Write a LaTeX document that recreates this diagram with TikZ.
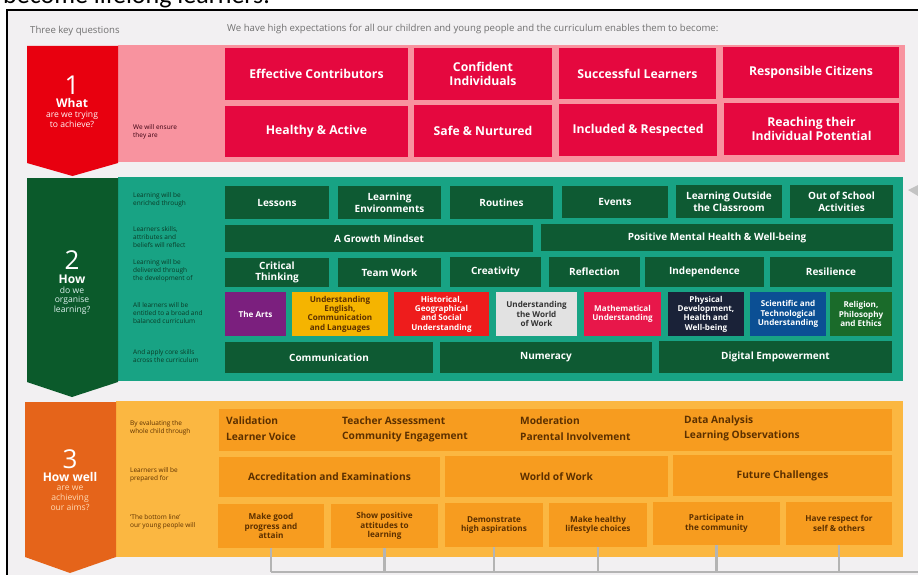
\documentclass[tikz,border=0pt]{standalone}
\usepackage{fontspec}
\setmainfont{Open Sans}
\newfontfamily\calib{Carlito}
\usetikzlibrary{positioning}
\definecolor{bgc}{HTML}{F2F0F2}
\definecolor{redchev}{HTML}{E8000F}
\definecolor{pinkband}{HTML}{F8939F}
\definecolor{crimson}{HTML}{E5083F}
\definecolor{gchev}{HTML}{0B5A2B}
\definecolor{teal}{HTML}{18A384}
\definecolor{gbox}{HTML}{0E5A33}
\definecolor{ochev}{HTML}{E5641A}
\definecolor{oband}{HTML}{FBB741}
\definecolor{obox}{HTML}{F79C1F}
\definecolor{brownt}{HTML}{5C3000}
\definecolor{greyt}{HTML}{707070}
\definecolor{glbl}{HTML}{0A3A26}
\definecolor{plbl}{HTML}{3A0010}
\definecolor{arts}{HTML}{7B1F7E}
\definecolor{engl}{HTML}{F5B400}
\definecolor{hist}{HTML}{EE1C1C}
\definecolor{world}{HTML}{E2E2E2}
\definecolor{math}{HTML}{E8174A}
\definecolor{phys}{HTML}{1A2238}
\definecolor{sci}{HTML}{0B4F94}
\definecolor{rel}{HTML}{1A6B2A}
\definecolor{lineg}{HTML}{B4B4B4}
\newcommand\rbox[7]{\node[#6, minimum width={(#4)-(#2)}, minimum height={(#5)-(#3)}] (#1) at ({((#2)+(#4))/2},{((#3)+(#5))/2}) {#7};}
\tikzset{
  base/.style={inner sep=0pt, outer sep=0pt, align=center},
  redb/.style={base, fill=crimson, text=white, font=\fontsize{12.2}{14}\selectfont\bfseries},
  grnb/.style={base, fill=gbox, text=white, font=\fontsize{10}{11.6}\selectfont\bfseries},
  curb/.style={base, font=\fontsize{8.1}{9.3}\selectfont\bfseries},
  orb/.style={base, fill=obox, text=brownt, font=\fontsize{10.2}{12}\selectfont\bfseries},
  orsm/.style={base, fill=obox, text=brownt, font=\fontsize{8.2}{9.4}\selectfont\bfseries},
  lbl/.style={inner sep=0pt, anchor=west, align=left, font=\fontsize{6.5}{8.2}\selectfont},
  chevnum/.style={inner sep=0pt, anchor=base, text=white, text height=18.5pt, text depth=0pt, font=\fontsize{26}{26}\selectfont},
  chevhd/.style={inner sep=0pt, anchor=base, text=white, text height=8.8pt, text depth=0pt, font=\fontsize{12}{13}\selectfont\bfseries},
  chevsm/.style={inner sep=0pt, align=center, font=\fontsize{8.6}{10}\selectfont},
  ortx/.style={inner sep=0pt, anchor=west, text=brownt, font=\fontsize{10.2}{12}\selectfont\bfseries},
  conn/.style={draw=lineg, line width=2.5pt}
}
\begin{document}
\begin{tikzpicture}[x=1pt,y=-1pt]
\useasboundingbox (0,0) rectangle (918,575);
\fill[white] (0,0) rectangle (918,575);
\begin{scope}
\clip (0,0) rectangle (918,575);
\node[inner sep=0pt, anchor=base west, font=\calib\fontsize{26}{26}\selectfont] (title) at (3,4) {become lifelong learners.};
\end{scope}
\fill[bgc] (7,10) rectangle (918,575);
\draw[black, line width=1.4pt] (7,575) -- (7,10) -- (918,10);

\node[inner sep=0pt, anchor=west, text=greyt, font=\fontsize{9.6}{11}\selectfont] (tkq) at (30,31) {Three key questions};
\node[inner sep=0pt, anchor=west, text=greyt, font=\fontsize{9.6}{11}\selectfont] (intro) at (227,29) {We have high expectations for all our children and young people and the curriculum enables them to become:};

% ---------- Section 1
\fill[pinkband] (118,45) rectangle (905,162);
\fill[redchev] (27,46) -- (118,46) -- (118,163) -- (72.5,176) -- (27,163) -- cycle;
\node[chevnum] (n1) at (72,94.5) {1};
\node[chevhd] (h1) at (72,107.5) {What};
\node[chevsm, text=white!85!pink] (s1) at (72,119.5) {are we trying\\to achieve?};
\node[lbl, text=plbl] (l1) at (133,131.5) {We will ensure\\they are};

\rbox{r11}{225}{48}{408}{100}{redb}{Effective Contributors}
\rbox{r12}{414}{48}{552}{100}{redb}{Confident\\Individuals}
\rbox{r13}{559}{48}{716}{99}{redb}{Successful Learners}
\rbox{r14}{723}{47}{899}{98}{redb}{Responsible Citizens}
\rbox{r21}{225}{106}{408}{157}{redb}{Healthy \& Active}
\rbox{r22}{414}{105}{552}{157}{redb}{Safe \& Nurtured}
\rbox{r23}{559}{104}{717}{156}{redb}{Included \& Respected}
\rbox{r24}{724}{103}{899}{155}{redb}{Reaching their\\Individual Potential}

% ---------- Section 2
\fill[teal] (118,177) rectangle (903,381);
\fill[gchev] (27,178) -- (118,178) -- (118,382) -- (72,397) -- (27,382) -- cycle;
\fill[lineg!80] (908,190) -- (918,185) -- (918,196) -- cycle;
\node[chevnum] (n2) at (72,269) {2};
\node[chevhd] (h2) at (72,283) {How};
\node[chevsm, text=white!85!teal, font=\fontsize{8.6}{9.4}\selectfont] (s2) at (72,300.5) {do we\\organise\\learning?};

\node[lbl, text=glbl] (l21) at (133,200) {Learning will be\\enriched through};
\node[lbl, text=glbl] (l22) at (133,237) {Learners skills,\\attributes and\\beliefs will reflect};
\node[lbl, text=glbl] (l23) at (133,271) {Learning will be\\delivered through\\the development of};
\node[lbl, text=glbl] (l24) at (133,313) {All learners will be\\entitled to a broad and\\balanced curriculum};
\node[lbl, text=glbl] (l25) at (133,356) {And apply core skills\\across the curriculum};

\rbox{g11}{225}{186}{329}{219}{grnb}{Lessons}
\rbox{g12}{338}{186}{441}{219}{grnb}{Learning\\Environments}
\rbox{g13}{450}{186}{553}{219}{grnb}{Routines}
\rbox{g14}{562}{186}{668}{218}{grnb}{Events}
\rbox{g15}{676}{185}{782}{218}{grnb}{Learning Outside\\the Classroom}
\rbox{g16}{790}{185}{893}{218}{grnb}{Out of School\\Activities}
\rbox{g21}{225}{225}{533}{252}{grnb}{A Growth Mindset}
\rbox{g22}{541}{224}{893}{251}{grnb}{Positive Mental Health \& Well-being}
\rbox{g31}{225}{258}{329}{287}{grnb}{Critical\\Thinking}
\rbox{g32}{338}{258}{441}{287}{grnb}{Team Work}
\rbox{g33}{450}{257}{541}{287}{grnb}{Creativity}
\rbox{g34}{549}{257}{640}{287}{grnb}{Reflection}
\rbox{g35}{645}{257}{764}{287}{grnb}{Independence}
\rbox{g36}{770}{257}{892}{287}{grnb}{Resilience}
\rbox{c1}{225}{292}{286}{336}{curb, fill=arts, text=white}{The Arts}
\rbox{c2}{292}{292}{388}{336}{curb, fill=engl, text=brownt}{Understanding\\English,\\Communication\\and Languages}
\rbox{c3}{394}{292}{489}{336}{curb, fill=hist, text=white}{Historical,\\Geographical\\and Social\\Understanding}
\rbox{c4}{496}{292}{577}{336}{curb, fill=world, text=black!80}{Understanding\\the World\\of Work}
\rbox{c5}{584}{292}{661}{336}{curb, fill=math, text=white!90!pink}{Mathematical\\Understanding}
\rbox{c6}{668}{292}{744}{336}{curb, fill=phys, text=white}{Physical\\Development,\\Health and\\Well-being}
\rbox{c7}{750}{292}{826}{336}{curb, fill=sci, text=white}{Scientific and\\Technological\\Understanding}
\rbox{c8}{830}{292}{892}{336}{curb, fill=rel, text=white}{Religion,\\Philosophy\\and Ethics}
\rbox{g51}{225}{342}{433}{373}{grnb}{Communication}
\rbox{g52}{440}{342}{652}{373}{grnb}{Numeracy}
\rbox{g53}{659}{341}{892}{373}{grnb}{Digital Empowerment}

% ---------- Section 3
\fill[oband] (116,401) rectangle (903,557);
\fill[ochev] (25,402) -- (116,402) -- (116,557) -- (70,573) -- (25,557) -- cycle;
\node[chevnum] (n3) at (70,468.5) {3};
\node[chevhd] (h3) at (70,481.5) {How well};
\node[chevsm, text=white!70!orange, font=\fontsize{8.6}{10}\selectfont] (s3) at (70,498.5) {are we\\achieving\\our aims?};

\node[lbl, text=brownt] (l31) at (130,427.5) {By evaluating the\\whole child through};
\node[lbl, text=brownt] (l32) at (130,475) {Learners will be\\prepared for};
\node[lbl, text=brownt] (l33) at (130,521.5) {`The bottom line'\\our young people will};

\rbox{o1}{219}{409}{892}{451}{orb}{}
\node[ortx] (t1) at (226,421) {Validation};
\node[ortx] (t2) at (226,437) {Learner Voice};
\node[ortx] (t3) at (342,421) {Teacher Assessment};
\node[ortx] (t4) at (342,437) {Community Engagement};
\node[ortx] (t5) at (520,421) {Moderation};
\node[ortx] (t6) at (520,437) {Parental Involvement};
\node[ortx] (t7) at (684,421) {Data Analysis};
\node[ortx] (t8) at (684,436) {Learning Observations};

\rbox{o21}{219}{457}{440}{497}{orb}{Accreditation and Examinations}
\rbox{o22}{445}{456}{668}{497}{orb}{World of Work}
\rbox{o23}{673}{455}{892}{496}{orb}{Future Challenges}

\rbox{b1}{218}{504}{324}{548}{orsm}{Make good\\progress and\\attain}
\rbox{b2}{331}{504}{438}{548}{orsm}{Show positive\\attitudes to\\learning}
\rbox{b3}{445}{503}{543}{547}{orsm}{Demonstrate\\high aspirations}
\rbox{b4}{549}{503}{647}{547}{orsm}{Make healthy\\lifestyle choices}
\rbox{b5}{653}{502}{780}{545}{orsm}{Participate in\\the community}
\rbox{b6}{786}{502}{892}{545}{orsm}{Have respect for\\self \& others}

% connectors
\coordinate (hl) at (918,572);
\coordinate (hs) at (b1.south |- hl);
\draw[conn] (hs) -- (hl);
\foreach \b in {b1,b2,b3,b4,b5,b6}{
  \draw[conn] (\b.south) -- (\b.south |- hl);
}
\end{tikzpicture}
\end{document}
